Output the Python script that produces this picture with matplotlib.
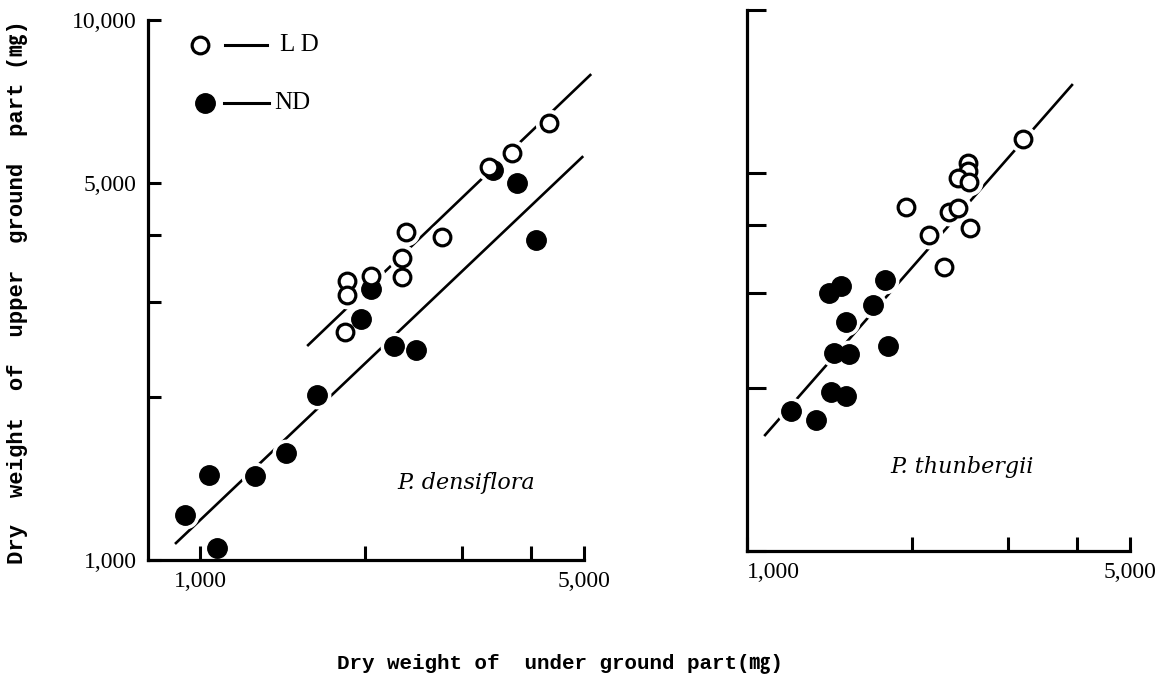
import matplotlib.pyplot as plt
from matplotlib.ticker import FixedLocator, FixedFormatter, NullLocator

# P. densiflora (mg)
dens_ld_x = [4322, 3701, 3361, 2760, 2372, 2333, 2333, 2049, 1853, 1853, 1837]
dens_ld_y = [6446, 5672, 5343, 3964, 4049, 3625, 3343, 3357, 3286, 3095, 2644]
dens_nd_x = [3780, 4093, 3419, 2049, 1965, 2256, 2474, 1634, 1435, 1259, 1038, 939, 1074]
dens_nd_y = [4990, 3914, 5275, 3177, 2794, 2490, 2448, 2021, 1578, 1431, 1437, 1212, 1052]
dens_ld_fit_x = [1573, 5133]
dens_ld_fit_y = [2500, 7909]
dens_nd_fit_x = [904, 4964]
dens_nd_fit_y = [1075, 5574]

# P. thunbergii (mg)
thun_ld_x = [3189, 2532, 2532, 2427, 2542, 1950, 2337, 2427, 2552, 2148, 2288]
thun_ld_y = [5773, 5214, 5040, 4892, 4809, 4325, 4234, 4305, 3954, 3837, 3350]
thun_nd_x = [1412, 1484, 1785, 1698, 1516, 1441, 1535, 1809, 1424, 1516, 1203, 1336]
thun_nd_y = [2999, 3090, 3170, 2850, 2650, 2323, 2313, 2393, 1968, 1935, 1815, 1746]
thun_fit_x = [1079, 3918]
thun_fit_y = [1638, 7266]

x_ticks = [1000, 2000, 3000, 4000, 5000]
x_labels = ["1,000", "", "", "", "5,000"]
y_ticks = [1000, 2000, 3000, 4000, 5000, 10000]
y_labels = ["1,000", "", "", "", "5,000", "10,000"]

label_family = ["Liberation Mono", "Noto Sans CJK JP"]

fig = plt.figure(figsize=(11.67, 6.82), dpi=100)
ax1 = fig.add_axes([148 / 1167, 1 - 560 / 682, 436 / 1167, 540 / 682])
ax2 = fig.add_axes([747 / 1167, 1 - 551 / 682, 383 / 1167, 541 / 682])


def style_axes(ax, xmin, show_y_labels):
    ax.set_xscale("log")
    ax.set_yscale("log")
    ax.set_xlim(xmin, 5000)
    ax.set_ylim(1000, 10000)
    for s in ["top", "right"]:
        ax.spines[s].set_visible(False)
    for s in ["left", "bottom"]:
        ax.spines[s].set_linewidth(2.3)
    ax.xaxis.set_major_locator(FixedLocator(x_ticks))
    ax.xaxis.set_major_formatter(FixedFormatter(x_labels))
    ax.yaxis.set_major_locator(FixedLocator(y_ticks))
    if show_y_labels:
        ax.yaxis.set_major_formatter(FixedFormatter(y_labels))
    else:
        ax.yaxis.set_major_formatter(FixedFormatter([""] * len(y_ticks)))
    ax.xaxis.set_minor_locator(NullLocator())
    ax.yaxis.set_minor_locator(NullLocator())
    ax.tick_params(axis="x", direction="in", length=10, width=2.2, pad=8,
                   labelsize=17, labelfontfamily="Liberation Serif")
    ax.tick_params(axis="y", direction="in", length=9, width=2.2, pad=8,
                   labelsize=17, labelfontfamily="Liberation Serif")


def draw_points(ax, xs, ys, filled):
    # white halo so the fitted line looks broken around each point
    ax.plot(xs, ys, "o", ms=19, mfc="white", mec="white", zorder=2, clip_on=False)
    if filled:
        ax.plot(xs, ys, "o", ms=14, mfc="black", mec="black", zorder=3, clip_on=False)
    else:
        ax.plot(xs, ys, "o", ms=12, mfc="white", mec="black", mew=2.3, zorder=4, clip_on=False)


style_axes(ax1, 804, True)
style_axes(ax2, 1000, False)

# left panel
ax1.plot(dens_ld_fit_x, dens_ld_fit_y, "-", color="black", lw=1.9, zorder=1, clip_on=False)
ax1.plot(dens_nd_fit_x, dens_nd_fit_y, "-", color="black", lw=1.9, zorder=1, clip_on=False)
draw_points(ax1, dens_nd_x, dens_nd_y, True)
draw_points(ax1, dens_ld_x, dens_ld_y, False)
ax1.text(0.729, 0.143, "P. densiflora", transform=ax1.transAxes, ha="center", va="center",
         fontsize=16, style="italic", family="DejaVu Serif")

# legend drawn by hand
ax1.plot([0.119], [0.954], "o", ms=12, mfc="white", mec="black", mew=2.3, transform=ax1.transAxes, clip_on=False)
ax1.plot([0.177, 0.273], [0.954, 0.954], "-", color="black", lw=2.2, transform=ax1.transAxes)
ax1.text(0.303, 0.954, "L D", transform=ax1.transAxes, ha="left", va="center",
         fontsize=18, family="Liberation Serif")
ax1.plot([0.131], [0.846], "o", ms=14, mfc="black", mec="black", transform=ax1.transAxes, clip_on=False)
ax1.plot([0.174, 0.278], [0.846, 0.846], "-", color="black", lw=2.2, transform=ax1.transAxes)
ax1.text(0.29, 0.846, "ND", transform=ax1.transAxes, ha="left", va="center",
         fontsize=18, family="Liberation Serif")

# right panel
ax2.plot(thun_fit_x, thun_fit_y, "-", color="black", lw=1.9, zorder=1, clip_on=False)
draw_points(ax2, thun_nd_x, thun_nd_y, True)
draw_points(ax2, thun_ld_x, thun_ld_y, False)
ax2.text(0.561, 0.155, "P. thunbergii", transform=ax2.transAxes, ha="center", va="center",
         fontsize=16, style="italic", family="DejaVu Serif")
ax2.tick_params(axis="y", length=14)
ax2.get_xticklabels()[0].set_horizontalalignment("left")

fig.text(17 / 1167, 1 - 292 / 682, "Dry  weight  of  upper  ground  part (㎎)", rotation=90,
         ha="center", va="center", fontsize=16, weight="bold", family=label_family)
fig.text(560 / 1167, 1 - 663 / 682, "Dry weight of  under ground part(㎎)",
         ha="center", va="center", fontsize=15, weight="bold", family=label_family)

fig.savefig("out.png", dpi=100, facecolor="white")
